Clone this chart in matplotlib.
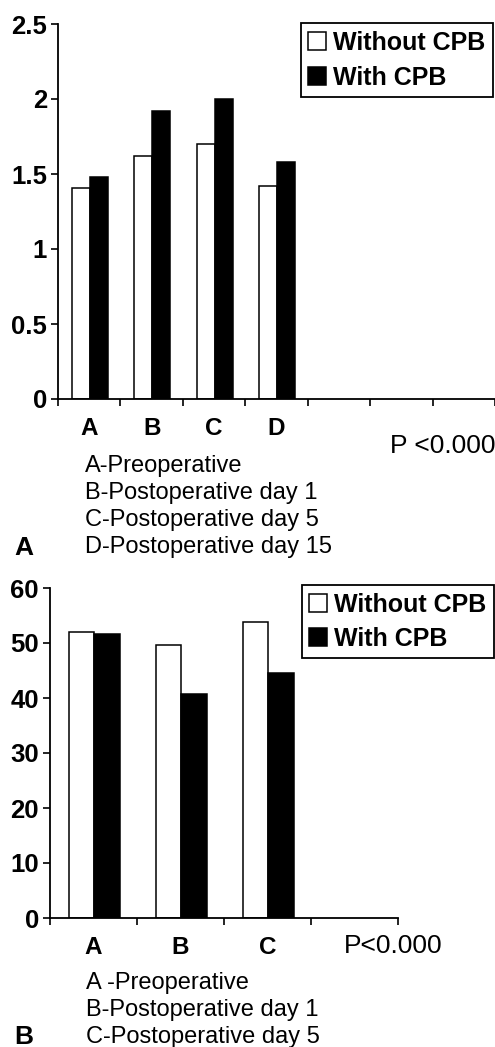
import matplotlib
matplotlib.use("Agg")
import matplotlib.pyplot as plt
import numpy as np

plt.rcParams['font.family'] = ['Liberation Sans', 'DejaVu Sans']

# panel A
catsA = ['A', 'B', 'C', 'D']
withoutA = [1.41, 1.62, 1.70, 1.42]
withA = [1.48, 1.92, 2.00, 1.58]
notesA = ['A-Preoperative', 'B-Postoperative day 1',
          'C-Postoperative day 5', 'D-Postoperative day 15']

# panel B
catsB = ['A', 'B', 'C']
withoutB = [52.0, 49.7, 53.9]
withB = [51.7, 40.7, 44.6]
notesB = ['A -Preoperative', 'B-Postoperative day 1', 'C-Postoperative day 5']

W, H = 495, 1047
fig = plt.figure(figsize=(W / 100, H / 100), dpi=100)


def fy(py):
    return 1 - py / H


def draw_panel(ax, cats, v_wo, v_w, nslots, ymax, ystep, yticklabels):
    x = np.arange(len(cats)) + 0.5
    w = 0.29
    b1 = ax.bar(x - w / 2 + 0.01, v_wo, w, color='white', edgecolor='black',
                linewidth=1.1, label='Without CPB')
    b2 = ax.bar(x + w / 2 + 0.01, v_w, w, color='black', edgecolor='black',
                linewidth=1.1, label='With CPB')
    ax.set_xlim(0, nslots)
    ax.set_ylim(0, ymax)
    ax.set_yticks(np.arange(0, ymax + ystep / 2, ystep))
    ax.set_yticklabels(yticklabels, fontweight='bold', fontsize=18.5)
    ax.set_xticks(np.arange(0, nslots + 1))
    ax.set_xticklabels([])
    ax.set_xticks(x, minor=True)
    ax.set_xticklabels(cats, minor=True, fontweight='bold', fontsize=17.5)
    ax.tick_params(axis='x', which='minor', length=0, pad=13)
    ax.tick_params(axis='both', which='major', length=5, width=1.2,
                   direction='out', pad=3, color='black')
    for s in ['top', 'right']:
        ax.spines[s].set_visible(False)
    for s in ['left', 'bottom']:
        ax.spines[s].set_linewidth(1.3)
    return b1, b2


ax1 = fig.add_axes([58 / W, fy(399), 437 / W, 375 / H])
draw_panel(ax1, catsA, withoutA, withA, 7, 2.5, 0.5,
           ['0', '0.5', '1', '1.5', '2', '2.5'])
leg1 = ax1.legend(loc='upper right', bbox_to_anchor=(493 / W, fy(23)),
                  bbox_transform=fig.transFigure,
                  prop={'weight': 'bold', 'size': 18},
                  handlelength=0.7, handleheight=0.7, handletextpad=0.3,
                  labelspacing=0.45, borderpad=0.3, borderaxespad=0,
                  fancybox=False, framealpha=1, edgecolor='black')
leg1.get_frame().set_linewidth(1.3)

ax2 = fig.add_axes([50 / W, fy(918), 348 / W, 330 / H])
draw_panel(ax2, catsB, withoutB, withB, 4, 60, 10,
           ['0', '10', '20', '30', '40', '50', '60'])
leg2 = ax2.legend(loc='upper right', bbox_to_anchor=(494 / W, fy(585)),
                  bbox_transform=fig.transFigure,
                  prop={'weight': 'bold', 'size': 18},
                  handlelength=0.7, handleheight=0.7, handletextpad=0.3,
                  labelspacing=0.4, borderpad=0.3, borderaxespad=0,
                  fancybox=False, framealpha=1, edgecolor='black')
leg2.get_frame().set_linewidth(1.3)

# notes under panel A
for i, t in enumerate(notesA):
    fig.text(85 / W, fy(466 + 27 * i), t, fontsize=17, va='center', ha='left')
fig.text(390 / W, fy(446), 'P <0.000', fontsize=19, va='center', ha='left')
fig.text(14 / W, fy(555), 'A', fontsize=19, fontweight='bold', va='baseline', ha='left')

# notes under panel B
for i, t in enumerate(notesB):
    fig.text(86 / W, fy(983 + 27 * i), t, fontsize=17, va='center', ha='left')
fig.text(344 / W, fy(946), 'P<0.000', fontsize=19, va='center', ha='left')
fig.text(14 / W, fy(1044), 'B', fontsize=19, fontweight='bold', va='baseline', ha='left')

fig.savefig('out.png', dpi=100)
